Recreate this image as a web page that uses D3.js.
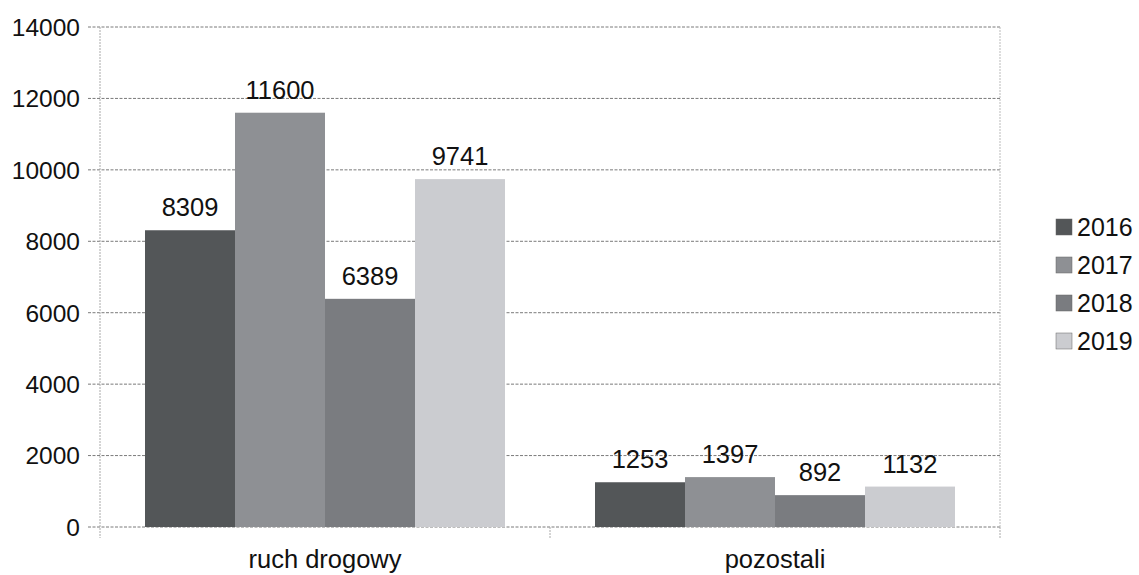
<!DOCTYPE html>
<html><head><meta charset="utf-8">
<script src="https://cdn.jsdelivr.net/npm/d3@7"></script>
<style>html,body{margin:0;padding:0;background:#fff;}svg{display:block;font-family:"Liberation Sans",Arial,sans-serif;}</style>
</head><body>
<svg id="c" width="1139" height="575"></svg>
<script>
const categories = ["ruch drogowy", "pozostali"];
const years = ["2016", "2017", "2018", "2019"];
const v2016 = [8309, 1253];
const v2017 = [11600, 1397];
const v2018 = [6389, 892];
const v2019 = [9741, 1132];
const yTicks = [0, 2000, 4000, 6000, 8000, 10000, 12000, 14000];
const colors = ["#535658", "#8e9094", "#7a7c80", "#cbccd0"];

const series = [v2016, v2017, v2018, v2019];
const svg = d3.select("#c");
const mLeft = 100, mRight = 1000, mTop = 27, mBottom = 527;

const x0 = d3.scaleBand().domain(categories).range([mLeft, mRight]).paddingInner(0).paddingOuter(0);
const x1 = d3.scaleBand().domain(years).range([0, x0.bandwidth()]).paddingInner(0).paddingOuter(0.5);
const y = d3.scaleLinear().domain([0, 14000]).range([mBottom, mTop]);

// gridlines
svg.append("g").selectAll("line").data(yTicks).join("line")
  .attr("x1", mLeft - 12).attr("x2", mRight)
  .attr("y1", d => y(d)).attr("y2", d => y(d))
  .attr("stroke", "#7a7a7a").attr("stroke-width", 1).attr("stroke-dasharray", "3,1.5");

// y axis line
svg.append("line").attr("x1", mLeft).attr("x2", mLeft).attr("y1", mTop).attr("y2", mBottom + 11)
  .attr("stroke", "#aaa").attr("stroke-dasharray", "2,1");
// right border
svg.append("line").attr("x1", mRight).attr("x2", mRight).attr("y1", mTop).attr("y2", mBottom)
  .attr("stroke", "#bbb").attr("stroke-dasharray", "2,1");
// category tick marks
svg.append("g").selectAll("line").data([mLeft + x0.bandwidth(), mRight]).join("line")
  .attr("x1", d => d).attr("x2", d => d).attr("y1", mBottom).attr("y2", mBottom + 11)
  .attr("stroke", "#aaa").attr("stroke-dasharray", "2,1");

// y tick labels
svg.append("g").selectAll("text").data(yTicks).join("text")
  .attr("x", 80).attr("y", d => y(d)).attr("dy", "0.36em")
  .attr("text-anchor", "end").attr("font-size", 24.5).attr("fill", "#111")
  .text(d => d);

// bars
const groups = svg.append("g").selectAll("g").data(categories).join("g")
  .attr("transform", c => `translate(${x0(c)},0)`);
groups.each(function(c, ci) {
  const g = d3.select(this);
  years.forEach((yr, si) => {
    const val = series[si][ci];
    g.append("rect").attr("x", x1(yr)).attr("width", x1.bandwidth())
      .attr("y", y(val)).attr("height", y(0) - y(val)).attr("fill", colors[si]);
    g.append("text").attr("x", x1(yr) + x1.bandwidth() / 2).attr("y", y(val) - 14)
      .attr("text-anchor", "middle").attr("font-size", 25.5).attr("fill", "#111").text(val);
  });
});

// category labels
svg.append("g").selectAll("text").data(categories).join("text")
  .attr("x", c => x0(c) + x0.bandwidth() / 2).attr("y", 568)
  .attr("text-anchor", "middle").attr("font-size", 25.5).attr("fill", "#111").text(c => c);

// legend
const leg = svg.append("g").selectAll("g").data(years).join("g")
  .attr("transform", (d, i) => `translate(1056,${227 + i * 38})`);
leg.append("rect").attr("x", 0).attr("y", -8).attr("width", 16).attr("height", 16)
  .attr("fill", (d, i) => colors[i]).attr("stroke", "#666").attr("stroke-width", 0.5);
leg.append("text").attr("x", 21).attr("y", 0).attr("dy", "0.36em")
  .attr("font-size", 25).attr("fill", "#111").text(d => d);
</script>
</body></html>
